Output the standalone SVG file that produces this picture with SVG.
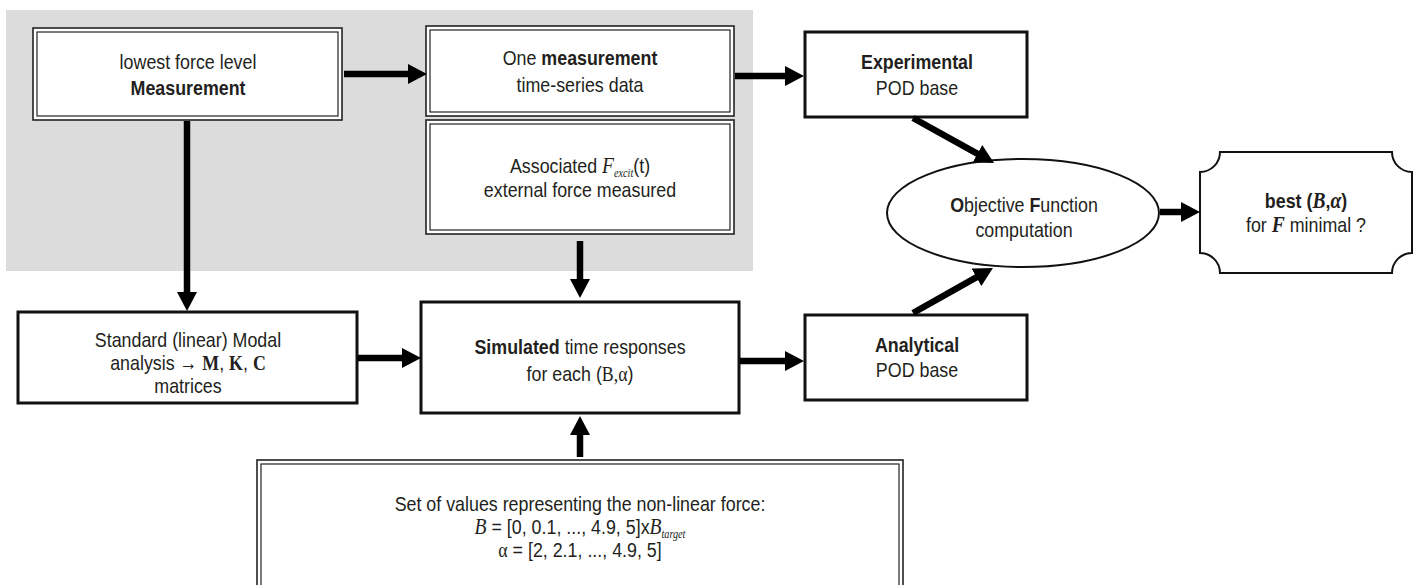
<svg xmlns="http://www.w3.org/2000/svg" width="1420" height="585" viewBox="0 0 1420 585">
<style>
.t{font-family:"Liberation Sans",Arial,sans-serif;font-size:21px;fill:#231f20;text-anchor:middle}
.b{font-weight:bold}
.s{font-family:"Liberation Serif","Times New Roman",serif}
.i{font-style:italic}
.sub{font-size:12px}
.out{fill:#fff;stroke:#222;stroke-width:1.6}
.in{fill:none;stroke:#222;stroke-width:1.2}
.box{fill:#fff;stroke:#111;stroke-width:3}
.thin{fill:#fff;stroke:#111;stroke-width:2}
.con line{stroke:#000;stroke-width:6.5;marker-end:url(#ah)}
</style>
<defs>
<marker id="ah" markerUnits="userSpaceOnUse" markerWidth="19" markerHeight="20" refX="8" refY="10" orient="auto">
<path d="M0,0 L19,10 L0,20 Z" fill="#000"/>
</marker>
</defs>
<rect x="6" y="10" width="747" height="261" fill="#dcdcdc"/>
<g id="lowest">
<rect class="out" x="33" y="28" width="309" height="92"/>
<rect class="in" x="37" y="32" width="301" height="84"/>
<text class="t" transform="translate(188,69) scale(.85,1)">lowest force level</text>
<text class="t b" transform="translate(188,95) scale(.85,1)">Measurement</text>
</g>
<g id="onemeas">
<rect class="out" x="426" y="26" width="308" height="90"/>
<rect class="in" x="430" y="30" width="300" height="82"/>
<text class="t" transform="translate(580,65) scale(.85,1)">One <tspan class="b">measurement</tspan></text>
<text class="t" transform="translate(580,92) scale(.85,1)">time-series data</text>
</g>
<g id="assoc">
<rect class="out" x="426" y="120" width="308" height="114"/>
<rect class="in" x="430" y="124" width="300" height="106"/>
<text class="t" transform="translate(580,173) scale(.85,1)">Associated <tspan class="s i" font-size="23">F</tspan><tspan class="s i sub" dy="4">excit</tspan><tspan dy="-4">(t)</tspan></text>
<text class="t" transform="translate(580,197) scale(.85,1)">external force measured</text>
</g>
<g id="experimental">
<rect class="box" x="805" y="32" width="222" height="85"/>
<text class="t b" transform="translate(917,69) scale(.85,1)">Experimental</text>
<text class="t" transform="translate(917,95) scale(.85,1)">POD base</text>
</g>
<g id="objective">
<ellipse cx="1023" cy="213" rx="136" ry="54" fill="#fff" stroke="#111" stroke-width="2"/>
<text class="t" transform="translate(1024,212) scale(.85,1)"><tspan class="b">O</tspan>bjective <tspan class="b">F</tspan>unction</text>
<text class="t" transform="translate(1024,237) scale(.85,1)">computation</text>
</g>
<g id="best">
<path class="thin" d="M1220,152 H1392 A20,20 0 0 0 1412,172 V253 A20,20 0 0 0 1392,273 H1220 A20,20 0 0 0 1200,253 V172 A20,20 0 0 0 1220,152 Z"/>
<text class="t b" transform="translate(1306,208) scale(.85,1)">best (<tspan class="s i" font-size="23">B</tspan>,<tspan class="s i" font-size="23">α</tspan>)</text>
<text class="t" transform="translate(1306,232) scale(.85,1)">for <tspan class="s i b" font-size="23">F</tspan> minimal ?</text>
</g>
<g id="standard">
<rect class="box" x="18" y="312" width="339" height="91"/>
<text class="t" transform="translate(188,347) scale(.85,1)">Standard (linear) Modal</text>
<text class="t" transform="translate(188,370) scale(.85,1)">analysis → <tspan class="s b">M</tspan>, <tspan class="s b">K</tspan>, <tspan class="s b">C</tspan></text>
<text class="t" transform="translate(188,393) scale(.85,1)">matrices</text>
</g>
<g id="simulated">
<rect class="box" x="421" y="302" width="318" height="111"/>
<text class="t" transform="translate(580,354) scale(.85,1)"><tspan class="b">Simulated</tspan> time responses</text>
<text class="t" transform="translate(580,381) scale(.85,1)">for each (<tspan class="s">B,α</tspan>)</text>
</g>
<g id="analytical">
<rect class="box" x="805" y="315" width="222" height="85"/>
<text class="t b" transform="translate(917,352) scale(.85,1)">Analytical</text>
<text class="t" transform="translate(917,377) scale(.85,1)">POD base</text>
</g>
<g id="values">
<rect class="out" x="257" y="460" width="646" height="140"/>
<rect class="in" x="261" y="464" width="638" height="132"/>
<text class="t" transform="translate(580,511) scale(.85,1)">Set of values representing the non-linear force:</text>
<text class="t" transform="translate(580,534) scale(.85,1)"><tspan class="s i" font-size="23">B</tspan> = [0, 0.1, ..., 4.9, 5]x<tspan class="s i" font-size="23">B</tspan><tspan class="s i sub" dy="4">target</tspan></text>
<text class="t" transform="translate(580,557) scale(.85,1)"><tspan class="s">α</tspan> = [2, 2.1, ..., 4.9, 5]</text>
</g>
<g id="connectors" class="con">
<line x1="344" y1="74" x2="416" y2="74"/>
<line x1="735" y1="76" x2="793" y2="76"/>
<line x1="913" y1="118" x2="984.4" y2="157.7"/>
<line x1="1160" y1="212" x2="1189" y2="212"/>
<line x1="187" y1="121" x2="187" y2="300"/>
<line x1="580" y1="241" x2="580" y2="287"/>
<line x1="358" y1="358" x2="410" y2="358"/>
<line x1="740" y1="361" x2="793" y2="361"/>
<line x1="913" y1="313" x2="983.4" y2="273.4"/>
<line x1="580" y1="457" x2="580" y2="427"/>
</g>
</svg>
